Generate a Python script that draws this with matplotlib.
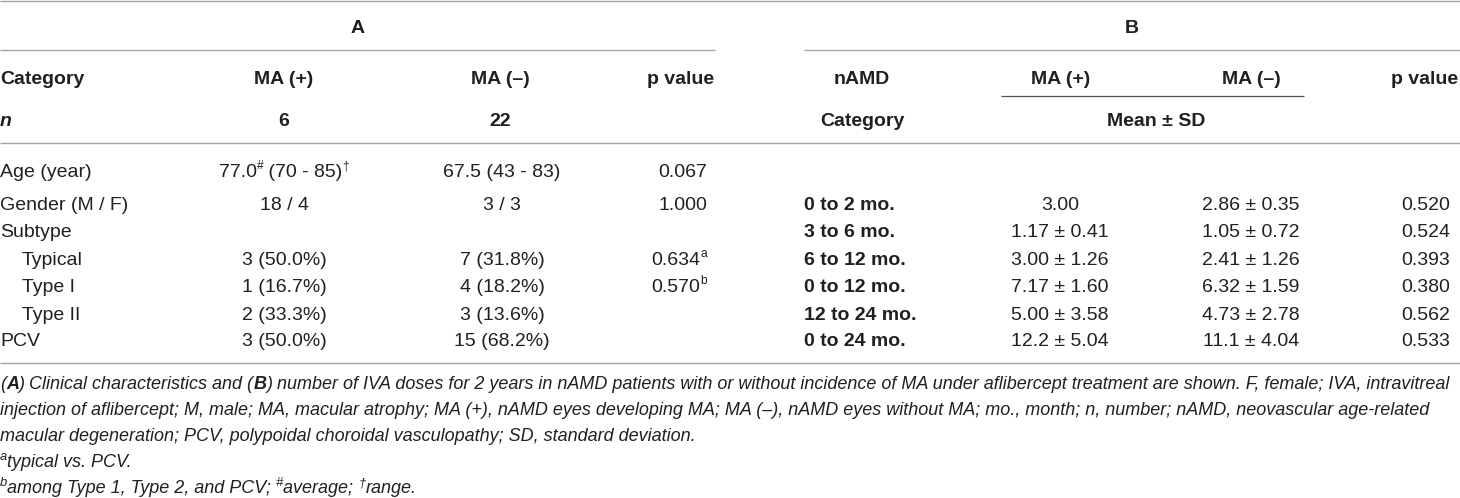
import re
import matplotlib
matplotlib.use("Agg")
import matplotlib.pyplot as plt

plt.rcParams['font.family'] = ['Liberation Sans', 'DejaVu Sans']

# ---- table A: clinical characteristics ----
row_labels = ["Age (year)", "Gender (M / F)", "Subtype", "Typical", "Type I", "Type II", "PCV"]
row_indent = [0, 0, 0, 1, 1, 1, 0]
ma_pos = ["77.0^{#} (70 - 85)^{†}", "18 / 4", "", "3 (50.0%)", "1 (16.7%)", "2 (33.3%)", "3 (50.0%)"]
ma_neg = ["67.5 (43 - 83)", "3 / 3", "", "7 (31.8%)", "4 (18.2%)", "3 (13.6%)", "15 (68.2%)"]
p_a = ["0.067", "1.000", "", "0.634^{a}", "0.570^{b}", "", ""]
n_pos, n_neg = "6", "22"

# ---- table B: IVA doses, mean ± SD ----
periods = ["0 to 2 mo.", "3 to 6 mo.", "6 to 12 mo.", "0 to 12 mo.", "12 to 24 mo.", "0 to 24 mo."]
pos_mean = ["3.00", "1.17", "3.00", "7.17", "5.00", "12.2"]
pos_sd = ["", "0.41", "1.26", "1.60", "3.58", "5.04"]
neg_mean = ["2.86", "1.05", "2.41", "6.32", "4.73", "11.1"]
neg_sd = ["0.35", "0.72", "1.26", "1.59", "2.78", "4.04"]
p_b = ["0.520", "0.524", "0.393", "0.380", "0.562", "0.533"]

caption = [
    "(**A**) Clinical characteristics and (**B**) number of IVA doses for 2 years in nAMD patients with or without "
    "incidence of MA under aflibercept treatment are shown. F, female; IVA, intravitreal",
    "injection of aflibercept; M, male; MA, macular atrophy; MA (+), nAMD eyes developing MA; MA (\u2013), nAMD eyes "
    "without MA; mo., month; n, number; nAMD, neovascular age-related",
    "macular degeneration; PCV, polypoidal choroidal vasculopathy; SD, standard deviation.",
    "^{a}typical vs. PCV.",
    "^{b}among Type 1, Type 2, and PCV; ^{#}average; ^{†}range.",
]

INK = "#231f20"
RULE = "#a3a3a3"
FS = 14
CAP_FS = 13

W, H = 1460, 498
fig = plt.figure(figsize=(W / 100, H / 100), dpi=100)
ax = fig.add_axes([0, 0, 1, 1])
ax.set_xlim(0, W)
ax.set_ylim(H, 0)
ax.axis("off")
renderer = fig.canvas.get_renderer()


def text_width(s, **kw):
    # measure with guard bars so edge spaces count
    t1 = ax.text(0, 0, "|" + s + "|", **kw)
    t2 = ax.text(0, 0, "||", **kw)
    w = t1.get_window_extent(renderer).width - t2.get_window_extent(renderer).width
    t1.remove(); t2.remove()
    return w


def draw_runs(x, y, s, ha="left", size=FS, style="normal", weight="normal", sup=0.62):
    # "^{..}" -> superscript, "**..**" -> bold run
    parts = [p for p in re.split(r"(\^\{.*?\}|\*\*.*?\*\*)", s) if p]
    runs = []
    for p in parts:
        if p.startswith("^{"):
            runs.append((p[2:-1], dict(size=size * sup, style=style, weight=weight), -size * 0.55))
        elif p.startswith("**"):
            runs.append((p[2:-2], dict(size=size, style=style, weight="bold"), 0))
        else:
            runs.append((p, dict(size=size, style=style, weight=weight), 0))
    widths = [text_width(r[0], **r[1]) for r in runs]
    total = sum(widths)
    if ha == "center":
        x -= total / 2
    elif ha == "right":
        x -= total
    base = y + size * 0.716 * 1.389 / 2
    for (txt, kw, dy), w in zip(runs, widths):
        ax.text(x, base + dy, txt, ha="left", va="baseline", color=INK, **kw)
        x += w


def cell(x, y, s, ha="center", weight="normal", style="normal"):
    draw_runs(x, y, s, ha=ha, weight=weight, style=style)


def rule(x0, x1, y, color=RULE, lw=1.0):
    ax.plot([x0, x1], [y, y], color=color, lw=lw, solid_capstyle="butt")


# rules
rule(0, W, 1)
rule(0, 715, 50)
rule(804, W, 50)
rule(1001, 1304, 96, color="#555555", lw=0.9)
rule(0, W, 143)
rule(0, W, 363)

# panel titles
cell(358, 26, "A", weight="bold")
cell(1132, 26, "B", weight="bold")

# table A header
cell(0, 77, "Category", ha="left", weight="bold")
cell(284, 77, "MA (+)", weight="bold")
cell(500, 77, "MA (\u2013)", weight="bold")
cell(714, 77, "p value", ha="right", weight="bold")
cell(0, 119, "n", ha="left", weight="bold", style="italic")
cell(284, 119, n_pos, weight="bold")
cell(500, 119, n_neg, weight="bold")

# table B header
cell(862, 77, "nAMD", weight="bold")
cell(1061, 77, "MA (+)", weight="bold")
cell(1251, 77, "MA (\u2013)", weight="bold")
cell(1458, 77, "p value", ha="right", weight="bold")
cell(862, 119, "Category", weight="bold")
cell(1156, 119, "Mean \u00b1 SD", weight="bold")

# table A body
row_y = [170, 203, 230, 258, 285, 313, 339]
for i, y in enumerate(row_y):
    cell(22 * row_indent[i], y, row_labels[i], ha="left")
    if ma_pos[i]:
        cell(284, y, ma_pos[i])
    if ma_neg[i]:
        cell(502, y, ma_neg[i])
    if p_a[i]:
        cell(707, y, p_a[i], ha="right")

# table B body (aligned with Gender..PCV rows)
for i, y in enumerate(row_y[1:]):
    cell(804, y, periods[i], ha="left", weight="bold")
    cell(1060, y, pos_mean[i] + (" \u00b1 " + pos_sd[i] if pos_sd[i] else ""))
    cell(1251, y, neg_mean[i] + " \u00b1 " + neg_sd[i])
    cell(1450, y, p_b[i], ha="right")

# caption
cap_y = [383, 409, 435, 461, 487]
for line, y in zip(caption, cap_y):
    draw_runs(0, y, line, size=CAP_FS, style="italic", sup=0.72)

fig.savefig("out.png", dpi=100)
